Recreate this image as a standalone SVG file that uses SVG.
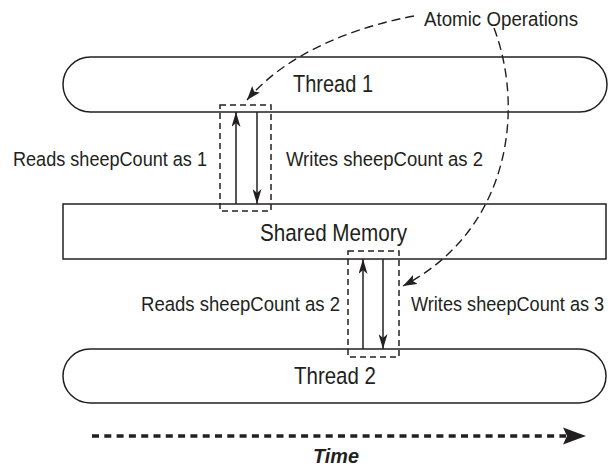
<svg xmlns="http://www.w3.org/2000/svg" width="613" height="466" viewBox="0 0 613 466">
<style>
.shape{fill:#fff;stroke:#231f20;stroke-width:1.5}
.name{font-family:"Liberation Sans",Arial,sans-serif;font-size:24.5px;fill:#231f20;text-anchor:start}
.lbl{font-family:"Liberation Sans",Arial,sans-serif;font-size:20.5px;fill:#231f20}
.solid{stroke:#231f20;stroke-width:1.5;fill:none}
.box{fill:none;stroke:#231f20;stroke-width:1.5;stroke-dasharray:6 4}
.curve{fill:none;stroke:#231f20;stroke-width:1.4;stroke-dasharray:9 5}
</style>
<defs>
<marker id="ah" viewBox="0 0 15 9" refX="15" refY="4.5" markerWidth="15" markerHeight="9" markerUnits="userSpaceOnUse" orient="auto">
<path d="M0,0 L15,4.5 L0,9 L4,4.5 Z" fill="#231f20"/>
</marker>
<marker id="ch" viewBox="0 0 14 10" refX="14" refY="5" markerWidth="14" markerHeight="10" markerUnits="userSpaceOnUse" orient="auto">
<path d="M0,0 L14,5 L0,10 L3,5 Z" fill="#231f20"/>
</marker>
</defs>
<g id="thread1">
<rect class="shape" x="63" y="57" width="544" height="55" rx="27.5" ry="27.5"/>
<text class="name" x="293" y="92" textLength="80" lengthAdjust="spacingAndGlyphs">Thread 1</text>
</g>
<g id="shared-memory">
<rect class="shape" x="63" y="204" width="543" height="55"/>
<text class="name" x="260" y="241" textLength="147" lengthAdjust="spacingAndGlyphs">Shared Memory</text>
</g>
<g id="thread2">
<rect class="shape" x="63" y="349" width="543" height="54" rx="27" ry="27"/>
<text class="name" x="294" y="384" textLength="82" lengthAdjust="spacingAndGlyphs">Thread 2</text>
</g>
<g id="atomic-label">
<text class="lbl" x="424" y="26" textLength="154" lengthAdjust="spacingAndGlyphs">Atomic Operations</text>
</g>
<g id="atomic-box-1">
<rect class="box" x="220" y="105" width="51" height="106"/>
</g>
<g id="atomic-box-2">
<rect class="box" x="348" y="251" width="51" height="106"/>
</g>
<g id="connectors">
<line class="solid" x1="236" y1="204" x2="236" y2="112" marker-end="url(#ah)"/>
<line class="solid" x1="257" y1="112" x2="257" y2="204" marker-end="url(#ah)"/>
<line class="solid" x1="363" y1="349" x2="363" y2="259" marker-end="url(#ah)"/>
<line class="solid" x1="383" y1="259" x2="383" y2="349" marker-end="url(#ah)"/>
<path class="curve" d="M414,16 C350,28 285,55 247,100" marker-end="url(#ch)"/>
<path class="curve" d="M494,28 C525,110 510,230 403,286" marker-end="url(#ch)"/>
<line x1="92" y1="436" x2="566" y2="436" stroke="#231f20" stroke-width="3.3" stroke-dasharray="7 5.3"/>
<polygon points="563,427.5 586,436 563,444.5 567,436" fill="#231f20"/>
</g>
<g id="labels">
<text class="lbl" x="13" y="166" textLength="194" lengthAdjust="spacingAndGlyphs">Reads sheepCount as 1</text>
<text class="lbl" x="286" y="166" textLength="197" lengthAdjust="spacingAndGlyphs">Writes sheepCount as 2</text>
<text class="lbl" x="141" y="311" textLength="199" lengthAdjust="spacingAndGlyphs">Reads sheepCount as 2</text>
<text class="lbl" transform="translate(411,311) scale(0.885,1)" x="0" y="0">Writes sheepCount as 3</text>
<text x="313" y="463" textLength="46" lengthAdjust="spacingAndGlyphs" style="font-family:'Liberation Sans',Arial,sans-serif;font-size:21px;font-weight:bold;font-style:italic;fill:#231f20">Time</text>
</g>
</svg>
